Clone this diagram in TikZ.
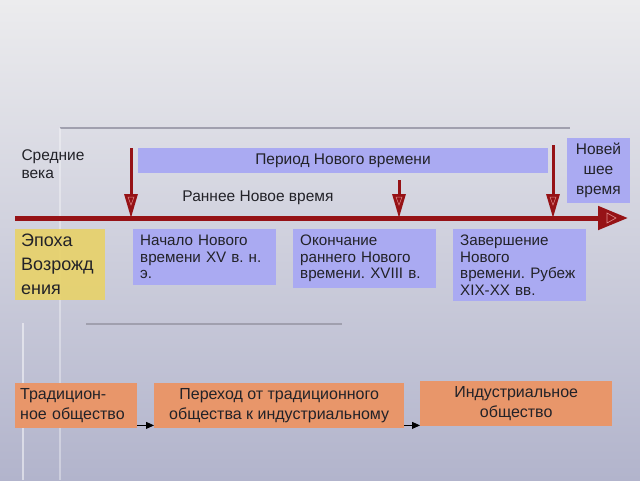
\documentclass[tikz,border=0pt]{standalone}
\usepackage{fontspec}
\setmainfont{Liberation Sans}
\usetikzlibrary{arrows.meta,positioning,calc}
\frenchspacing

\definecolor{tlred}{RGB}{150,18,22}
\definecolor{tlpink}{RGB}{225,140,140}
\definecolor{boxblue}{RGB}{170,170,242}
\definecolor{boxyellow}{RGB}{232,210,104}
\definecolor{boxorange}{RGB}{232,150,106}
\definecolor{bgtop}{RGB}{236,236,238}
\definecolor{bgbot}{RGB}{178,180,204}
\definecolor{decogray}{RGB}{160,160,174}
\definecolor{txt}{RGB}{34,34,40}

\tikzset{
  blubox/.style={fill=boxblue, inner xsep=7pt, inner ysep=6pt, align=left,
    anchor=north west, text=txt, font=\fontsize{15.2}{16.5}\selectfont},
  orbox/.style={fill=boxorange, inner sep=3pt, align=center, anchor=north west,
    text=txt, font=\fontsize{16}{20}\selectfont},
  plain/.style={text=txt, font=\fontsize{15.5}{18}\selectfont},
  mainarrow/.style={draw=tlred, line width=5pt, -{Triangle[length=30pt,width=23pt]}},
  downarrow/.style={draw=tlred, line width=3pt, -{Triangle[length=24pt,width=13pt]}},
  smallarrow/.style={draw=black, line width=0.8pt, -{Triangle[length=8pt,width=7pt]}},
}

\begin{document}
\begin{tikzpicture}[x=1pt,y=-1pt]
    % background
    \shade[top color=bgtop, bottom color=bgbot] (0,0) rectangle (640,480);
    \useasboundingbox (0,0) rectangle (640,480);

    % decoration lines
    \draw[decogray, line width=2pt] (60,128) -- (570,128);
    \draw[decogray, line width=2pt] (86,324) -- (342,324);
    \draw[white, opacity=0.35, line width=2pt] (60,128) -- (60,480);
    \draw[white, opacity=0.5, line width=2.5pt] (23,323) -- (23,480);

    % time line
    \coordinate (tlstart) at (15,218);
    \coordinate (tlend) at (628,218);
    \draw[mainarrow] (tlstart) -- (tlend);
    \draw[tlpink, line width=0.6pt] (607,213) -- (616,218) -- (607,223) -- cycle;

    % markers
    \coordinate (m1top) at (131,148);
    \coordinate (m2top) at (399,180);
    \coordinate (m3top) at (553,145);
    \foreach \m in {m1,m2,m3}
        \draw[downarrow] (\m top) -- (\m top |- tlstart);
    \foreach \x in {131,399,553}
        \draw[tlpink, line width=0.5pt] (\x-3,197) -- (\x+3,197) -- (\x,205) -- cycle;

    % labels above the line
    \node[plain, anchor=north west, align=left] (middle) at (18,146) {Средние\\века};
    \node[fill=boxblue, minimum width=410pt, minimum height=25pt, text=txt,
          font=\fontsize{15.5}{18}\selectfont] (period) at (343,160.5) {Период Нового времени};
    \node[plain] (early) at (258,198) {Раннее Новое время};
    \node[fill=boxblue, minimum width=63pt, minimum height=65pt, inner sep=2pt,
          align=center, text=txt, font=\fontsize{15.5}{20}\selectfont] (newest)
          at (598.5,170.5) {Новей\\шее\\время};

    % boxes below the line
    \node[fill=boxyellow, fill opacity=0.9, text opacity=1, inner xsep=6pt, inner ysep=5pt,
          text width=78pt, align=left, anchor=north west, text=txt,
          font=\fontsize{18}{24}\selectfont] (renaiss) at (15,229) {Эпоха\\Возрожд\\ения};
    \node[blubox, text width=129pt] (start) at (133,229) {Начало Нового\\времени XV в. н.\\э.};
    \node[blubox, text width=129pt] (endearly) at (293,229) {Окончание\\раннего Нового\\времени. XVIII в.};
    \node[blubox, text width=119pt] (endmod) at (453,229) {Завершение\\Нового\\времени. Рубеж\\XIX-XX вв.};

    % society
    \node[orbox, minimum width=122pt, minimum height=45pt, align=left, text width=112pt]
          (trad) at (15,383) {Традицион-\\ное общество};
    \node[orbox, minimum width=250pt, minimum height=45pt] (trans) at (154,383)
          {Переход от традиционного\\общества к индустриальному};
    \node[orbox, minimum width=192pt, minimum height=45pt] (indust) at (420,381)
          {Индустриальное\\общество};
    \draw[smallarrow] ([yshift=3pt]trad.south east) -- ([yshift=3pt]trad.south east -| trans.west);
    \draw[smallarrow] ([yshift=3pt]trans.south east) -- ([yshift=3pt]trans.south east -| indust.west);
\end{tikzpicture}
\end{document}
